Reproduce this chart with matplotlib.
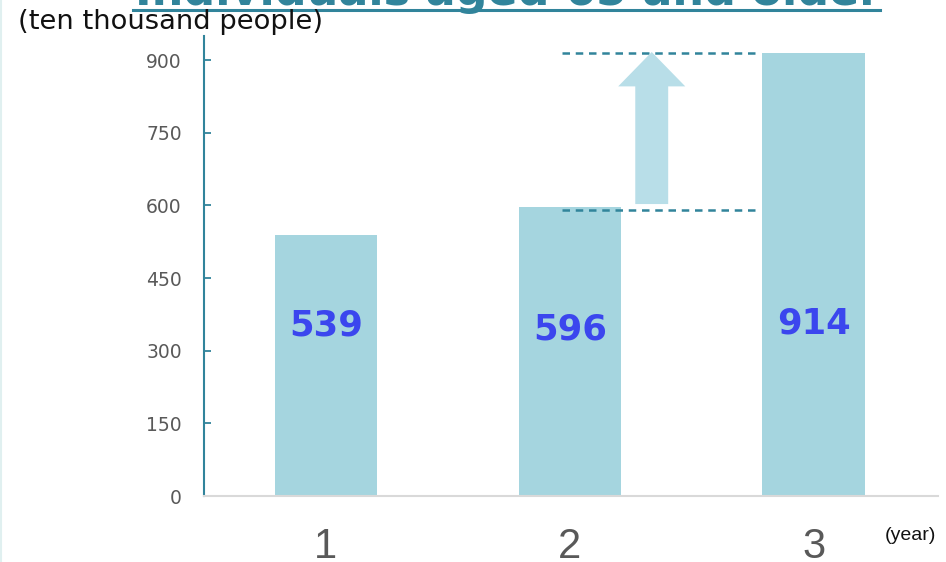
import matplotlib
matplotlib.use("Agg")
import matplotlib.pyplot as plt
from matplotlib.patches import FancyArrow
from matplotlib.lines import Line2D

# elderly population, ten thousand people
years = [1, 2, 3]
year_labels = ["1", "2", "3"]
population = [539, 596, 914]

yticks = [0, 150, 300, 450, 600, 750, 900]

bar_color = "#a5d5df"
teal = "#31849b"
label_blue = "#3b46ee"

fig = plt.figure(figsize=(9.46, 5.62), dpi=100)
ax = fig.add_axes([0.2156, 0.1174, 0.776, 0.8185])

ax.bar(years, population, width=0.42, color=bar_color, zorder=2)

# value labels inside bars
label_y = [353, 343, 357]
for x, v, ly in zip(years, population, label_y):
    ax.text(x, ly, str(v), ha="center", va="center", fontsize=25.5,
            fontweight="bold", color=label_blue, zorder=4)

# growth marker between year 2 and year 3
ax.plot([1.967, 2.78], [population[1] - 6, population[1] - 6], ls=(0, (3, 2.3)),
        color=teal, lw=1.8, zorder=3)
ax.plot([1.967, 2.78], [population[2], population[2]], ls=(0, (3, 2.3)),
        color=teal, lw=1.8, zorder=3)
arrow = FancyArrow(2.336, 603, 0, population[2] + 3 - 603, width=0.135,
                   head_width=0.275, head_length=71, length_includes_head=True,
                   color="#b8dee8", lw=0, zorder=3)
ax.add_patch(arrow)

ax.set_xlim(0.5, 3.51)
ax.set_ylim(0, 950)
ax.set_yticks(yticks)
ax.set_xticks(years)
ax.set_xticklabels(year_labels, fontsize=30, color="#595959",
                   family="Liberation Sans")
ax.tick_params(axis="x", length=0, pad=22)
ax.tick_params(axis="y", direction="in", length=5, width=1.3, color=teal,
               labelsize=13.5, labelcolor="#595959", pad=16)

for s in ["top", "right"]:
    ax.spines[s].set_visible(False)
ax.spines["left"].set_color(teal)
ax.spines["left"].set_linewidth(1.5)
ax.spines["bottom"].set_color("#d9d9d9")
ax.spines["bottom"].set_linewidth(1.5)

fig.text(0.019, 0.961, "(ten thousand people)", fontsize=19.7, va="center",
         ha="left", color="#111111")
fig.text(0.935, 0.048, "(year)", fontsize=14, va="center", ha="left",
         color="#111111", family="Liberation Sans")

# title, mostly above the top edge
fig.text(0.537, 0.991, "Individuals aged 65 and older", fontsize=32,
         fontweight="bold", color=teal, ha="center", va="baseline")
fig.add_artist(Line2D([133 / 946, 880 / 946], [0.982, 0.982], color=teal,
                      lw=2.2, transform=fig.transFigure))
fig.add_artist(Line2D([0.001, 0.001], [0, 1], color="#e0f0f0", lw=1.5,
                      transform=fig.transFigure))

fig.savefig("out.png", dpi=100)
